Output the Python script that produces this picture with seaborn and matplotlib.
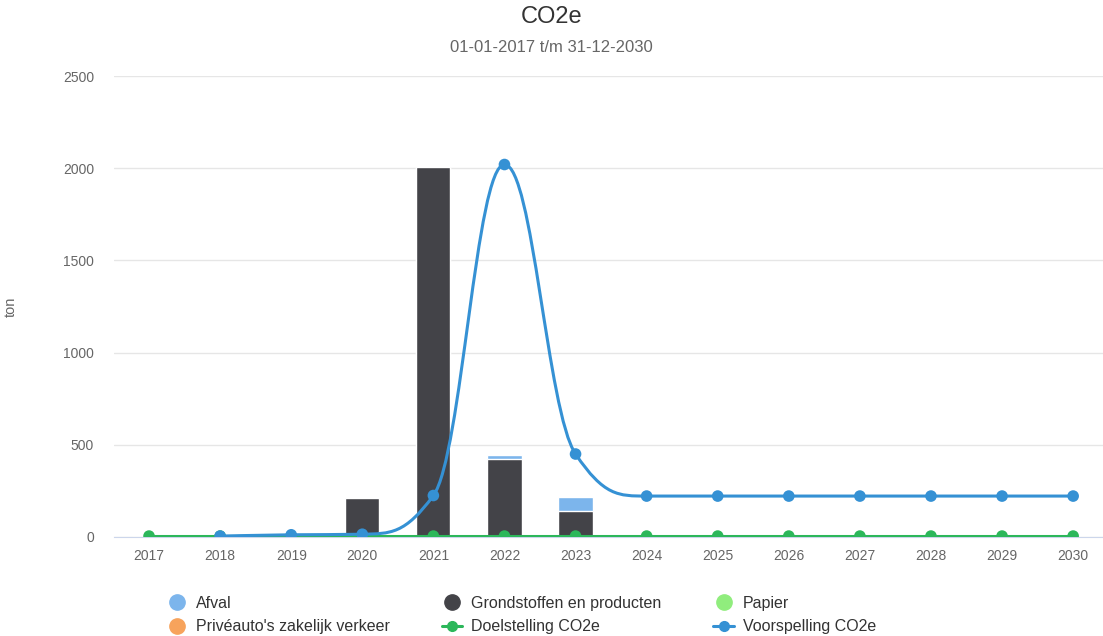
import numpy as np
import pandas as pd
import seaborn as sns
import matplotlib.pyplot as plt
from matplotlib.path import Path
from matplotlib.patches import PathPatch
from matplotlib.lines import Line2D

years = ["2017", "2018", "2019", "2020", "2021", "2022", "2023",
         "2024", "2025", "2026", "2027", "2028", "2029", "2030"]
afval = [0, 0, 0, 0, 0, 20, 76, 0, 0, 0, 0, 0, 0, 0]
grondstoffen = [0, 0, 0, 211, 2006, 423, 141, 0, 0, 0, 0, 0, 0, 0]
papier = [0] * 14
priveauto = [0] * 14
doelstelling = [5] * 14
voorspelling = [None, 5, 12, 15, 225, 2020, 450, 222, 222, 222, 222, 222, 222, 222]

c_afval = "#7cb5ec"
c_grond = "#434348"
c_papier = "#90ed7d"
c_prive = "#f7a35c"
c_doel = "#2cb75a"
c_voor = "#3591d4"

sns.set_style("white")
plt.rcParams["font.family"] = ["Liberation Sans", "DejaVu Sans"]

df = pd.DataFrame({"jaar": years, "afval": afval, "grond": grondstoffen,
                   "papier": papier, "prive": priveauto})
df["totaal"] = df["afval"] + df["grond"] + df["papier"] + df["prive"]

fig = plt.figure(figsize=(11.03, 6.36), dpi=100)
ax = fig.add_axes([113.5 / 1103, 99 / 636, 1 - 113.5 / 1103, 461 / 636])

# stacked bars: total first (afval colour), then grondstoffen over it
sns.barplot(data=df, x="jaar", y="totaal", color=c_afval, saturation=1,
            width=0.48, edgecolor="white", linewidth=1, ax=ax, zorder=2)
sns.barplot(data=df, x="jaar", y="grond", color=c_grond, saturation=1,
            width=0.48, edgecolor="white", linewidth=1, ax=ax, zorder=3)

xpos = np.arange(len(years))

# doelstelling
sns.lineplot(x=xpos, y=doelstelling, color=c_doel, linewidth=2.2, ax=ax, zorder=4)
sns.scatterplot(x=xpos, y=doelstelling, color=c_doel, s=70, edgecolor="none",
                ax=ax, zorder=5)

# voorspelling as Highcharts-like spline
pts = [(x, y) for x, y in zip(xpos, voorspelling) if y is not None]
smooth = 1.5
verts = [pts[0]]
codes = [Path.MOVETO]
right = {}
for i in range(1, len(pts)):
    px, py = pts[i]
    lx, ly = pts[i - 1]
    lcx, lcy = px, py
    if i < len(pts) - 1:
        nx, ny = pts[i + 1]
        lcx = (smooth * px + lx) / (smooth + 1)
        lcy = (smooth * py + ly) / (smooth + 1)
        rcx = (smooth * px + nx) / (smooth + 1)
        rcy = (smooth * py + ny) / (smooth + 1)
        corr = (rcy - lcy) * (rcx - px) / (rcx - lcx) + py - rcy
        lcy += corr
        rcy += corr
        if lcy > ly and lcy > py:
            lcy = max(ly, py); rcy = 2 * py - lcy
        elif lcy < ly and lcy < py:
            lcy = min(ly, py); rcy = 2 * py - lcy
        if rcy > ny and rcy > py:
            rcy = max(ny, py); lcy = 2 * py - rcy
        elif rcy < ny and rcy < py:
            rcy = min(ny, py); lcy = 2 * py - rcy
        right[i] = (rcx, rcy)
    prev = right.get(i - 1, (lx, ly))
    verts += [prev, (lcx, lcy), (px, py)]
    codes += [Path.CURVE4] * 3
ax.add_patch(PathPatch(Path(verts, codes), facecolor="none", edgecolor=c_voor,
                       linewidth=2.2, zorder=6))
vx = [p[0] for p in pts]
vy = [p[1] for p in pts]
sns.scatterplot(x=vx, y=vy, color=c_voor, s=70, edgecolor="none", ax=ax, zorder=7)

ax.set_xlim(-0.5, 13.42)
ax.set_ylim(0, 2500)
ax.set_yticks([0, 500, 1000, 1500, 2000, 2500])
ax.grid(axis="y", color="#e6e6e6", linewidth=1)
ax.set_axisbelow(True)
for s in ["top", "right", "left"]:
    ax.spines[s].set_visible(False)
ax.spines["bottom"].set_color("#ccd6eb")
ax.tick_params(axis="both", length=0, labelsize=10, colors="#666666")
ax.tick_params(axis="y", pad=14)
ax.tick_params(axis="x", pad=9)
ax.set_xlabel("")
ax.set_ylabel("ton", fontsize=10.5, color="#666666")
ax.yaxis.set_label_coords((18 - 113.5) / 989.5, 0.5)

fig.text(0.5, 1 - 17 / 636, "CO2e", ha="center", va="center", fontsize=17, color="#333333")
fig.text(0.5, 1 - 48 / 636, "01-01-2017 t/m 31-12-2030", ha="center", va="center",
         fontsize=12, color="#666666")

def dot(c, lbl):
    return Line2D([], [], marker="o", linestyle="none", markersize=11,
                  markerfacecolor=c, markeredgecolor=c, label=lbl)

def ln(c, lbl):
    return Line2D([], [], marker="o", linestyle="-", linewidth=2.2, markersize=7,
                  color=c, label=lbl)

handles = [dot(c_afval, "Afval"), dot(c_prive, "Privéauto's zakelijk verkeer"),
           dot(c_grond, "Grondstoffen en producten"), ln(c_doel, "Doelstelling CO2e"),
           dot(c_papier, "Papier"), ln(c_voor, "Voorspelling CO2e")]
fig.legend(handles=handles, ncol=3, loc="center left", bbox_to_anchor=(152 / 1103, 1 - 615 / 636),
           frameon=False, fontsize=11.5, labelcolor="#333333", handlelength=1.3,
           handletextpad=0.55, columnspacing=3.25, labelspacing=0.55)

fig.savefig("out.png", dpi=100)
